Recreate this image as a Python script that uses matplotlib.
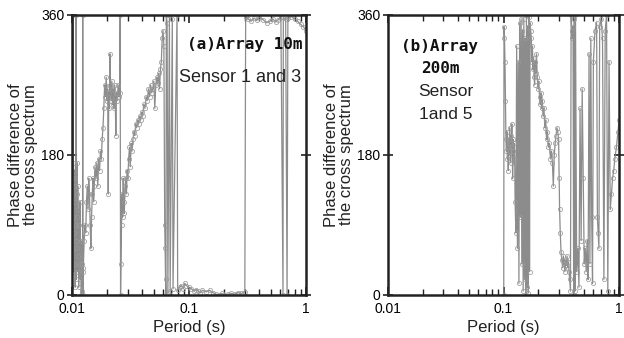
import matplotlib
matplotlib.use("Agg")
import matplotlib.pyplot as plt
from matplotlib.ticker import FixedLocator, NullFormatter, LogLocator

plt.rcParams['font.family'] = ['Liberation Sans', 'DejaVu Sans']

# ---------------- data ----------------
period_a = [0.0100, 0.01008, 0.01015, 0.0102, 0.01025, 0.0103, 0.01035, 0.0104, 0.01045, 0.0105,
            0.01055, 0.0106, 0.01065, 0.0107, 0.01075, 0.0108, 0.01085, 0.0109, 0.01095, 0.0110,
            0.01105, 0.0111, 0.01115, 0.0112, 0.01125, 0.0113, 0.0114, 0.0115, 0.0116, 0.0117,
            0.0118, 0.0119, 0.0120, 0.0121, 0.0122, 0.0123, 0.01235, 0.0124, 0.0125,
            0.0127, 0.0129, 0.0131, 0.0133, 0.0135, 0.0137, 0.0139, 0.0141, 0.0143, 0.0145,
            0.0147, 0.0149, 0.0151, 0.0153, 0.0155, 0.0157, 0.0160, 0.0163, 0.0166, 0.0169,
            0.0172, 0.0175, 0.0178, 0.0181, 0.0184, 0.0187, 0.0190, 0.0193, 0.0196, 0.0199,
            0.0202, 0.0204, 0.0206, 0.0209, 0.0211, 0.0213, 0.0216, 0.0219, 0.0222, 0.0225,
            0.0228, 0.0231, 0.0234, 0.0237, 0.0240, 0.0244, 0.0248, 0.0252, 0.0256, 0.0258,
            0.0260, 0.0262, 0.0265, 0.0268, 0.0271, 0.0274, 0.0277, 0.0280, 0.0284, 0.0288,
            0.0292, 0.0296, 0.0300, 0.0305, 0.0310, 0.0315, 0.0320, 0.0326, 0.0332, 0.0338,
            0.0344, 0.0350, 0.0357, 0.0364, 0.0371, 0.0378, 0.0386, 0.0394, 0.0402, 0.0410,
            0.0420, 0.0430, 0.0440, 0.0450, 0.0460, 0.0470, 0.0480, 0.0490, 0.0500, 0.0510,
            0.0520, 0.0530, 0.0540, 0.0550, 0.0560, 0.0570, 0.0580, 0.0590, 0.0600, 0.0610,
            0.0620, 0.0625, 0.0630, 0.0635, 0.0640, 0.0650, 0.0660, 0.0680, 0.0690, 0.0720,
            0.0730, 0.0790, 0.0800, 0.0830, 0.0860, 0.0890, 0.0920, 0.0950, 0.1000, 0.105,
            0.110, 0.115, 0.120, 0.125, 0.130, 0.140, 0.150, 0.160, 0.170, 0.180,
            0.190, 0.200, 0.215, 0.230, 0.245, 0.260, 0.280, 0.300, 0.305, 0.320,
            0.340, 0.360, 0.380, 0.400, 0.430, 0.460, 0.490, 0.520, 0.550, 0.580,
            0.610, 0.636, 0.640, 0.670, 0.689, 0.700, 0.750, 0.800, 0.850, 0.900,
            0.950, 1.000]
phase_a = [150, 360, 60, 360, 100, 170, 30, 140, 80, 160,
           40, 120, 10, 150, 70, 360, 90, 20, 130, 60,
           170, 100, 30, 140, 50, 110, 10, 90, 40, 120,
           20, 70, 0, 40, 5, 30, 360, 0, 35,
           70, 90, 80, 120, 140, 110, 150, 130, 90, 60,
           100, 130, 150, 120, 140, 165, 150, 170, 140, 175,
           160, 185, 175, 200, 215, 240, 270, 255, 280, 250,
           265, 130, 260, 240, 310, 270, 250, 275, 245, 265,
           240, 270, 255, 205, 260, 250, 270, 255, 260, 360,
           0, 40, 90, 130, 100, 150, 120, 105, 140, 150,
           130, 160, 150, 175, 190, 165, 195, 185, 200, 210,
           205, 220, 215, 225, 220, 230, 225, 235, 230, 245,
           240, 255, 250, 265, 255, 270, 260, 265, 275, 240,
           270, 280, 272, 285, 265, 290, 300, 330, 340, 320,
           90, 60, 20, 0, 360, 350, 2, 360, 5, 355,
           8, 360, 6, 10, 12, 8, 15, 12, 10, 8,
           5, 7, 5, 3, 6, 4, 6, 3, 1, 0,
           2, 0, 1, 2, 1, 3, 2, 4, 358, 355,
           352, 356, 353, 357, 354, 350, 352, 355, 351, 354,
           358, 0, 357, 355, 0, 356, 358, 355, 352, 348,
           345, 340]

period_b = [0.1005, 0.1010, 0.1020, 0.1030, 0.1040, 0.1050, 0.1060, 0.1070, 0.1080, 0.1090,
            0.1100, 0.1110, 0.1120, 0.1130, 0.1140, 0.1150, 0.1160, 0.1170, 0.1180, 0.1190,
            0.1200, 0.1210, 0.1220, 0.1230, 0.1240, 0.1250,
            0.1260, 0.1280, 0.1300, 0.1320, 0.1340, 0.1360, 0.1380, 0.1400, 0.1420, 0.1440,
            0.1460, 0.1480, 0.1500, 0.1520, 0.1540, 0.1560, 0.1580, 0.1600, 0.1620, 0.1640,
            0.1660, 0.1680, 0.1700, 0.1720,
            0.1740, 0.1760, 0.1780, 0.1800, 0.1820, 0.1840, 0.1860,
            0.1880, 0.1900, 0.1930, 0.1960, 0.1990, 0.2020, 0.2050, 0.2080, 0.2110, 0.2140,
            0.2170, 0.2200, 0.2240, 0.2280, 0.2320, 0.2360, 0.2400, 0.2450, 0.2500, 0.2550,
            0.2600, 0.2650, 0.2700, 0.2750, 0.2800, 0.2850, 0.2900, 0.2950, 0.3000, 0.3030,
            0.3060, 0.3100, 0.3150, 0.3200, 0.3250, 0.3300, 0.3350, 0.3400, 0.3450, 0.3500,
            0.3550, 0.3600, 0.3650, 0.3700, 0.3750, 0.3800, 0.3850, 0.3900, 0.3950, 0.4000,
            0.4050, 0.4100, 0.4150, 0.4200, 0.4300, 0.4400, 0.4500, 0.4600, 0.4700, 0.4800,
            0.4900, 0.5000, 0.5100, 0.5200, 0.5300, 0.5400, 0.5500, 0.5600, 0.5700, 0.5800,
            0.5900, 0.6000, 0.6200, 0.6400, 0.6500, 0.6600, 0.6700, 0.6800, 0.7000, 0.7200,
            0.7400, 0.7600, 0.7800, 0.8000, 0.8200, 0.8400, 0.8600, 0.8800, 0.9000, 0.9200,
            0.9500, 0.9800, 1.0000]
phase_b = [0, 345, 330, 300, 250, 200, 185, 210, 175, 190,
           160, 200, 180, 215, 195, 170, 205, 190, 220, 180,
           150, 200, 185, 170, 195, 175,
           120, 80, 320, 60, 300, 15, 350, 100, 355, 40,
           340, 5, 355, 20, 330, 0, 360, 10, 345, 3,
           358, 30, 350, 340,
           330, 300, 320, 290, 305, 280, 270,
           300, 285, 310, 280, 265, 275, 255, 245, 260, 240,
           250, 230, 240, 215, 225, 200, 210, 190, 195, 175,
           185, 170, 140, 180, 195, 205, 215, 210, 200, 150,
           110, 80, 55, 45, 35, 50, 40, 30, 45, 38,
           50, 35, 42, 30, 20, 5, 360, 340, 330, 345,
           0, 355, 5, 360, 30, 60, 10, 240, 70, 265,
           150, 40, 60, 30, 70, 20, 310, 40, 330, 100,
           15, 300, 340, 350, 100, 80, 60, 345, 355, 330,
           20, 340, 360, 5, 300, 110, 130, 150, 160, 175,
           190, 210, 225]

x_ticks = [0.01, 0.1, 1]
x_ticklabels = ["0.01", "0.1", "1"]
y_ticks = [0, 180, 360]
y_ticklabels = ["0", "180", "360"]

# ---------------- figure ----------------
fig = plt.figure(figsize=(6.24, 3.38), dpi=100)
ax_a = fig.add_axes([72/624, 43/338, 234/624, 280/338])
ax_b = fig.add_axes([388/624, 43/338, 231/624, 280/338])

line_col = '#808080'

for ax, px, ph in [(ax_a, period_a, phase_a), (ax_b, period_b, phase_b)]:
    ax.plot(px, ph, color=line_col, lw=0.9, marker='o', ms=3.0,
            mfc='none', mec='#999999', mew=0.6, alpha=0.9)
    ax.set_xscale('log')
    ax.set_xlim(0.01, 1)
    ax.set_ylim(0, 360)
    ax.xaxis.set_major_locator(FixedLocator(x_ticks))
    ax.set_xticklabels(x_ticklabels)
    ax.xaxis.set_minor_locator(LogLocator(base=10, subs=range(2, 10)))
    ax.xaxis.set_minor_formatter(NullFormatter())
    ax.set_yticks(y_ticks)
    ax.set_yticklabels(y_ticklabels)
    ax.tick_params(axis='x', which='major', direction='in', top=True, bottom=True,
                   length=6, width=1.2, labelsize=10, pad=5, color='#222222')
    ax.tick_params(axis='x', which='minor', direction='in', top=True, bottom=True,
                   length=4, width=1.0, color='#222222')
    ax.tick_params(axis='y', which='major', direction='inout', left=True, right=True,
                   length=7, width=1.2, labelsize=10, pad=2, color='#222222')
    for s in ax.spines.values():
        s.set_linewidth(1.8)
        s.set_color('#222222')
    ax.set_xlabel('Period (s)', fontsize=12, labelpad=3, color='#222222')
    ax.set_ylabel('Phase difference of\nthe cross spectrum', fontsize=12,
                  labelpad=2, color='#222222', linespacing=1.0)

mono = dict(family=['DejaVu Sans Mono'], fontweight='bold', fontsize=11.5, color='#111111')
ax_a.text(0.985, 0.893, '(a)Array 10m', transform=ax_a.transAxes, ha='right', va='center', **mono)
ax_a.text(0.98, 0.775, 'Sensor 1 and 3', transform=ax_a.transAxes, ha='right', va='center',
          fontsize=13, color='#222222')

ax_b.text(0.225, 0.886, '(b)Array', transform=ax_b.transAxes, ha='center', va='center', **mono)
ax_b.text(0.228, 0.81, '200m', transform=ax_b.transAxes, ha='center', va='center', **mono)
ax_b.text(0.25, 0.725, 'Sensor', transform=ax_b.transAxes, ha='center', va='center',
          fontsize=12.5, color='#222222')
ax_b.text(0.25, 0.646, '1and 5', transform=ax_b.transAxes, ha='center', va='center',
          fontsize=12.5, color='#222222')

fig.savefig('out.png', dpi=100)
